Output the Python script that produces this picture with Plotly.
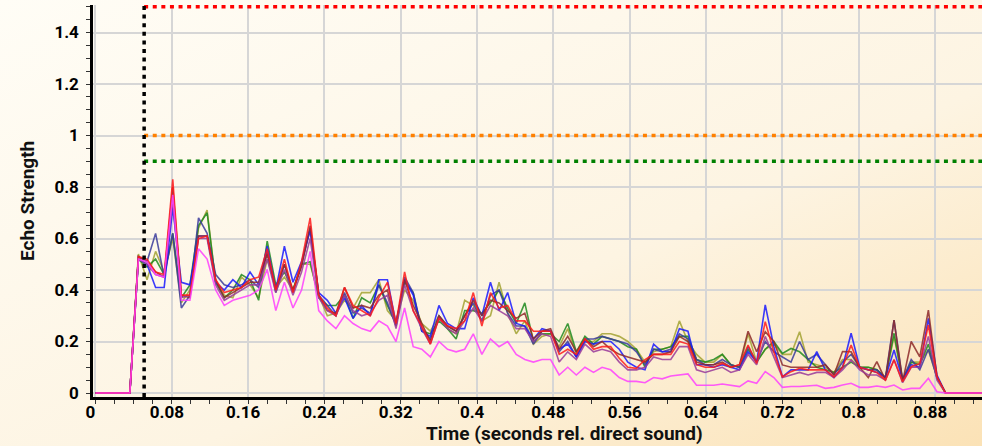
import base64
import plotly.graph_objects as go

# sampling grid of the echo analysis (seconds after direct sound)
dt = 0.009
time = [round(i * dt, 4) for i in range(105)]

red = [0, 0, 0, 0, 0, .53, .52, .47, .46, .83, .38, .38, .60, .61, .44, .39, .40, .41, .44, .45,
       .56, .40, .52, .39, .51, .68, .38, .33, .30, .41, .34, .32, .30, .37, .43, .27, .47, .32, .26, .19,
       .29, .26, .25, .28, .39, .26, .39, .33, .34, .28, .28, .24, .24, .24, .15, .17, .15, .21, .17, .18,
       .18, .135, .10, .096, .13, .15, .15, .15, .20, .19, .11, .10, .10, .115, .10, .11, .186, .115, .277, .16,
       .063, .083, .096, .09, .09, .09, .063, .10, .186, .10, .09, .08, .05, .128, .044, .102, .115, .264, .063, 0,
       0, 0, 0, 0, 0]
blue = [0, 0, 0, 0, 0, .52, .50, .41, .41, .72, .43, .42, .61, .61, .43, .40, .44, .41, .47, .42,
        .57, .40, .57, .43, .51, .63, .39, .36, .31, .37, .29, .34, .30, .44, .44, .27, .44, .38, .24, .22,
        .34, .27, .25, .25, .37, .30, .43, .32, .39, .27, .26, .21, .25, .24, .17, .19, .14, .20, .19, .20,
        .20, .17, .12, .10, .09, .19, .16, .16, .25, .24, .11, .11, .10, .11, .10, .09, .16, .12, .342, .18,
        .063, .09, .09, .09, .161, .09, .06, .10, .232, .10, .09, .08, .06, .167, .05, .11, .10, .29, .07, 0,
        0, 0, 0, 0, 0]
navy = [0, 0, 0, 0, 0, .53, .51, .62, .45, .62, .33, .38, .68, .62, .46, .42, .41, .42, .44, .41,
        .55, .39, .50, .39, .50, .64, .38, .34, .30, .39, .31, .33, .31, .42, .35, .26, .45, .39, .25, .21,
        .30, .26, .24, .30, .35, .28, .38, .40, .31, .26, .26, .19, .24, .24, .16, .20, .14, .21, .21, .22,
        .21, .20, .19, .16, .11, .17, .16, .17, .23, .21, .13, .11, .11, .13, .11, .10, .18, .12, .20, .16,
        .14, .12, .20, .13, .15, .11, .07, .12, .15, .10, .09, .09, .06, .283, .05, .13, .09, .17, .06, 0,
        0, 0, 0, 0, 0]
olive = [0, 0, 0, 0, 0, .54, .44, .55, .47, .60, .35, .40, .64, .71, .43, .38, .37, .45, .42, .37,
         .52, .41, .45, .40, .50, .50, .38, .30, .31, .36, .33, .39, .39, .44, .32, .28, .40, .36, .27, .24,
         .30, .25, .23, .36, .34, .28, .30, .43, .31, .23, .28, .19, .22, .23, .18, .25, .15, .20, .20, .23,
         .23, .22, .20, .17, .12, .16, .17, .18, .28, .20, .15, .12, .12, .15, .11, .10, .23, .12, .17, .19,
         .15, .15, .238, .12, .11, .10, .08, .13, .13, .10, .10, .09, .06, .22, .05, .12, .12, .167, .06, 0,
         0, 0, 0, 0, 0]
green = [0, 0, 0, 0, 0, .52, .49, .52, .46, .62, .37, .42, .65, .70, .43, .37, .40, .46, .44, .36,
         .59, .42, .47, .40, .50, .51, .37, .34, .34, .38, .29, .37, .35, .42, .34, .27, .43, .39, .24, .23,
         .28, .25, .21, .32, .32, .31, .35, .40, .33, .27, .35, .20, .23, .23, .20, .27, .16, .22, .19, .22,
         .21, .20, .18, .17, .10, .17, .17, .18, .22, .22, .13, .12, .13, .15, .11, .10, .17, .12, .17, .20,
         .154, .173, .16, .128, .10, .09, .08, .10, .12, .10, .10, .09, .06, .232, .05, .12, .11, .19, .06, 0,
         0, 0, 0, 0, 0]
brown = [0, 0, 0, 0, 0, .53, .51, .47, .45, .80, .38, .37, .61, .61, .44, .37, .39, .41, .43, .43,
         .54, .40, .50, .40, .49, .65, .38, .32, .31, .41, .33, .34, .33, .38, .40, .26, .44, .34, .27, .20,
         .30, .26, .24, .30, .36, .30, .36, .35, .32, .29, .31, .21, .24, .25, .17, .22, .16, .21, .18, .20,
         .17, .15, .14, .13, .12, .15, .15, .16, .22, .20, .12, .11, .11, .12, .10, .11, .24, .16, .238, .20,
         .109, .10, .10, .10, .10, .11, .07, .161, .16, .10, .06, .122, .05, .283, .044, .20, .14, .322, .063, 0,
         0, 0, 0, 0, 0]
purple = [0, 0, 0, 0, 0, .52, .50, .46, .45, .75, .37, .38, .60, .60, .42, .36, .38, .40, .42, .42,
          .52, .39, .48, .38, .47, .60, .37, .32, .30, .38, .32, .30, .31, .36, .38, .25, .42, .32, .25, .19,
          .29, .25, .23, .28, .33, .28, .34, .32, .30, .25, .25, .20, .23, .22, .12, .16, .13, .19, .16, .17,
          .16, .12, .09, .09, .10, .14, .13, .13, .18, .18, .09, .08, .09, .10, .08, .09, .15, .11, .22, .14,
          .06, .07, .08, .07, .08, .08, .06, .09, .128, .09, .07, .07, .05, .13, .04, .10, .10, .22, .05, 0,
          0, 0, 0, 0, 0]
magenta = [0, 0, 0, 0, 0, .52, .51, .46, .45, .77, .36, .36, .56, .52, .40, .34, .36, .37, .38, .40,
           .48, .32, .43, .33, .40, .55, .32, .28, .25, .30, .27, .25, .24, .28, .26, .20, .33, .18, .17, .14,
           .20, .17, .16, .17, .23, .15, .21, .18, .20, .15, .13, .12, .13, .13, .07, .10, .07, .10, .08, .10,
           .09, .06, .045, .045, .04, .06, .055, .066, .07, .074, .03, .03, .03, .035, .03, .025, .047, .038, .083, .06,
           .022, .025, .025, .027, .03, .018, .022, .031, .038, .022, .022, .027, .022, .031, .012, .018, .018, .057, .005, 0,
           0, 0, 0, 0, 0]

series = [
    ("olive", olive, "#a3a333"),
    ("green", green, "#1f8a1f"),
    ("navy", navy, "#3b3b9c"),
    ("blue", blue, "#1a1aff"),
    ("brown", brown, "#8e2a2a"),
    ("purple", purple, "#9a3a9a"),
    ("red", red, "#ff1a1a"),
    ("magenta", magenta, "#ff40ff"),
]

# reference markers
onset = 0.051
limits = [(1.5, "#ff0000"), (1.0, "#ff8000"), (0.9, "#008000")]

W, H = 982, 446
L, R, T, B = 93, 0, 5, 49
pw, ph = W - L - R, H - T - B

fig = go.Figure()
for name, vals, col in series:
    fig.add_trace(go.Scatter(x=time, y=vals, mode="lines", name=name,
                             line=dict(color=col, width=1.6), opacity=0.85))

dot = dict(width=3.5, dash="4px,4.6px")
for val, col in limits:
    fig.add_shape(type="line", xref="x", yref="y", x0=onset, x1=0.93, y0=val, y1=val,
                  line=dict(color=col, **dot))
fig.add_shape(type="line", xref="x", yref="paper", x0=onset, x1=onset, y0=0, y1=1,
              line=dict(color="#000000", **dot))

svg = ('<svg xmlns="http://www.w3.org/2000/svg" width="982" height="446">'
       '<defs><linearGradient id="g" x1="0" y1="0" x2="1" y2="1">'
       '<stop offset="0" stop-color="#fffdf6"/><stop offset="0.6" stop-color="#fdf4e2"/>'
       '<stop offset="1" stop-color="#fbe2b6"/></linearGradient></defs>'
       '<rect width="982" height="446" fill="url(#g)"/></svg>')
bg = "data:image/svg+xml;base64," + base64.b64encode(svg.encode()).decode()

font = dict(family="Roboto", size=17, color="#000000", weight="bold")
axis = dict(showline=True, linecolor="#000000", linewidth=2.5, gridcolor="#d6d6d6", gridwidth=2,
            ticks="outside", ticklen=4, tickcolor="#333333", zeroline=False, tickfont=font,
            automargin=False)

fig.update_layout(
    width=W, height=H, autosize=False,
    margin=dict(l=L, r=R, t=T, b=B, pad=0, autoexpand=False),
    paper_bgcolor="#fdf3e0", plot_bgcolor="#efefef",
    showlegend=False,
    images=[dict(source=bg, xref="paper", yref="paper", x=-L / pw, y=1 + T / ph,
                 sizex=W / pw, sizey=H / ph, sizing="stretch", layer="below",
                 xanchor="left", yanchor="top")],
    xaxis=dict(axis, range=[-0.0026, 0.9292], dtick=0.08, tick0=0, ticklabelshift=-5,
               ticklabelstandoff=-6,
               minor=dict(dtick=0.02, ticks="outside", ticklen=4, tickcolor="#333333", showgrid=False)),
    yaxis=dict(axis, range=[-0.0155, 1.5068], dtick=0.2, tick0=0, ticklabelstandoff=4,
               minor=dict(dtick=0.05, ticks="outside", ticklen=4, tickcolor="#333333", showgrid=False)),
    annotations=[
        dict(text="Echo Strength", xref="paper", yref="paper", x=(27 - L) / pw, y=0.5,
             textangle=-90, showarrow=False, xanchor="center", yanchor="middle",
             font=dict(family="Roboto", size=19, color="#111111", weight="bold")),
        dict(text="Time (seconds rel. direct sound)", xref="paper", yref="paper",
             x=(564 - L) / pw, y=(H - B - 433) / ph, showarrow=False,
             xanchor="center", yanchor="middle",
             font=dict(family="Roboto", size=19, color="#111111", weight="bold")),
    ],
)

# page default margin would push the figure 8px down/right
fig.write_html("out.html", config={"displayModeBar": False},
               post_script="document.body.style.margin='0';")
